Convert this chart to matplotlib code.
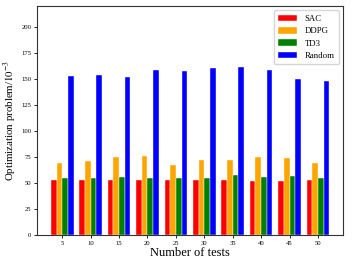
import matplotlib
matplotlib.use("Agg")
import matplotlib.pyplot as plt
import numpy as np

plt.rcParams['font.family'] = ['Liberation Serif', 'DejaVu Serif']
plt.rcParams['mathtext.fontset'] = 'stix'

tests = [5, 10, 15, 20, 25, 30, 35, 40, 45, 50]
sac = [52.5, 53, 52.5, 52.5, 53, 52.5, 53, 52, 52, 52.5]
ddpg = [69, 71, 75, 76, 67, 72, 72, 75, 74, 69]
td3 = [55, 55, 56, 55, 55, 55, 58, 56, 57, 55]
rand = [153, 154, 152, 158, 157, 160, 161, 158, 150, 148]

fig = plt.figure(figsize=(3.52, 2.64), dpi=100)
ax = fig.add_axes([0.105, 0.11, 0.87, 0.868])
x = np.array(tests, dtype=float)
w = 1.0
kw = dict(width=w, edgecolor='white', linewidth=0.3)
ax.bar(x - 1.5 * w, sac, color='red', label='SAC', **kw)
ax.bar(x - 0.5 * w, ddpg, color='orange', label='DDPG', **kw)
ax.bar(x + 0.5 * w, td3, color='green', label='TD3', **kw)
ax.bar(x + 1.5 * w, rand, color='blue', label='Random', **kw)

ax.set_ylim(0, 220)
ax.set_xticks(tests)
ax.set_yticks([0, 25, 50, 75, 100, 125, 150, 175, 200])
ax.tick_params(labelsize=4.8, length=2, width=0.6, pad=2)
ax.set_xlabel('Number of tests', fontsize=9, labelpad=1)
ax.set_ylabel('Optimization problem/$10^{-3}$', fontsize=7.8)
ax.yaxis.set_label_coords(-0.058, 0.5)
for s in ax.spines.values():
    s.set_linewidth(0.8)
    s.set_color('#333333')
ax.legend(loc='upper right', fontsize=6.3, handlelength=2.2, handleheight=0.8,
          borderpad=0.5, labelspacing=0.45, fancybox=True)
fig.savefig('out.png', dpi=100)
